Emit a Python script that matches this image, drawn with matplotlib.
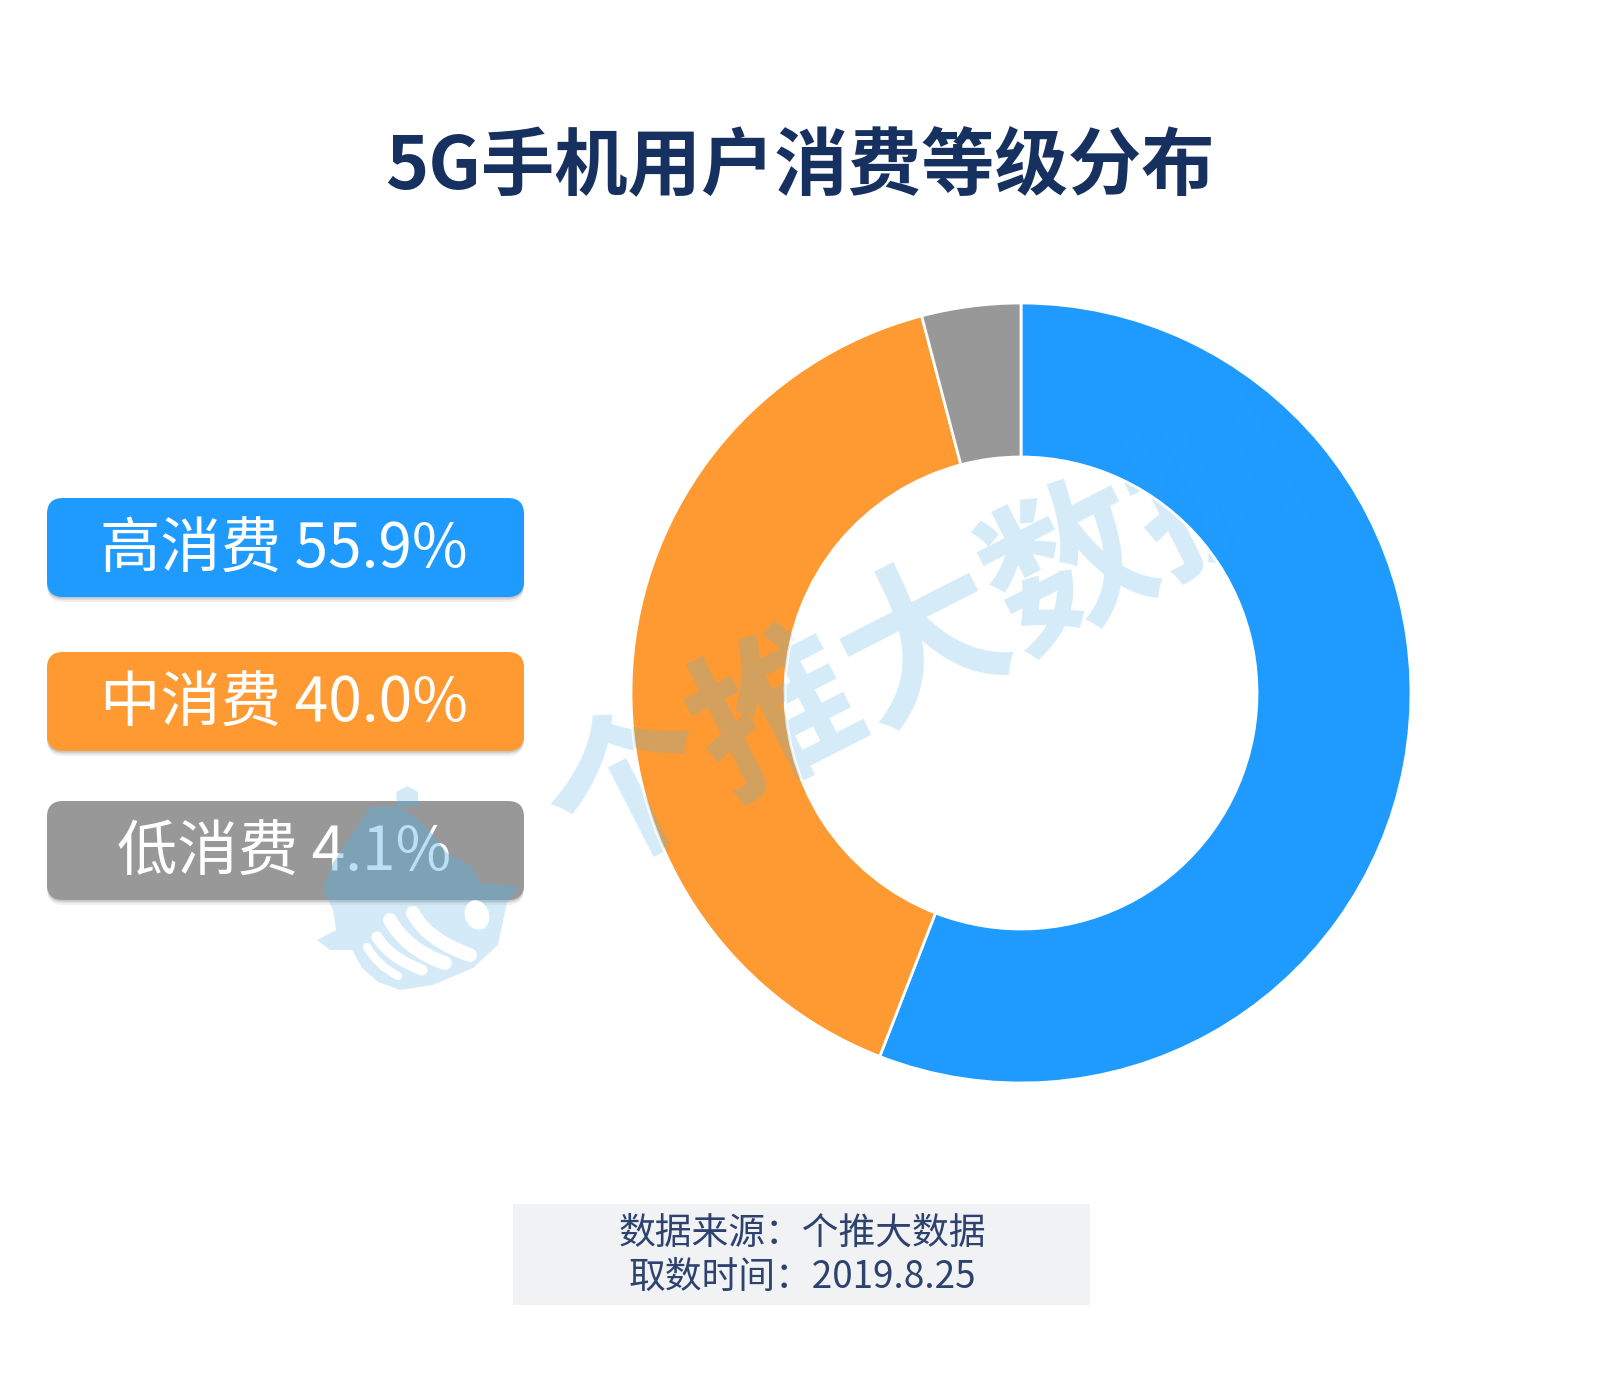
import matplotlib
matplotlib.use("Agg")
import matplotlib.pyplot as plt
from matplotlib.patches import FancyBboxPatch, Rectangle, Ellipse, Polygon, PathPatch
from matplotlib.path import Path
from matplotlib.textpath import TextPath
from matplotlib.font_manager import FontProperties
from matplotlib.transforms import Affine2D

plt.rcParams['font.family'] = ['Noto Sans CJK SC', 'DejaVu Sans']

title = "5G手机用户消费等级分布"
categories = ["高消费", "中消费", "低消费"]
values = [55.9, 40.0, 4.1]
colors = ["#1F9BFF", "#FE9A31", "#989898"]
source_lines = ["数据来源：个推大数据", "取数时间：2019.8.25"]
watermark = "个推大数据"

W, H = 1599, 1384
WM = (87/255, 179/255, 227/255)
WA = 0.25

fig = plt.figure(figsize=(W/100, H/100), dpi=100, facecolor="white")

# canvas in pixel coordinates
bg = fig.add_axes([0, 0, 1, 1], zorder=0)
bg.set_xlim(0, W); bg.set_ylim(H, 0); bg.axis("off")

bg.text(800, 168, title, ha="center", va="center", fontsize=52.8, fontweight="bold", color="#16305F")

# legend boxes
tops = [498, 652, 801]
box_patches = []
for cat, val, col, top in zip(categories, values, colors, tops):
    for off, a in ((5, .06), (3, .08), (1.5, .10)):
        bg.add_patch(FancyBboxPatch((47+15, top+15+off), 477-30, 99-30,
                     boxstyle="round,pad=15,rounding_size=16", fc="black", ec="none", alpha=a, zorder=1))
    box_patches.append(bg.add_patch(FancyBboxPatch((47+15, top+15), 477-30, 99-30,
                 boxstyle="round,pad=15,rounding_size=16", fc=col, ec="none", zorder=2)))
    bg.text(284, top+53, f"{cat} {val:.1f}%", ha="center", va="center", fontsize=43.5,
            color="white", fontweight="light", zorder=3)

# source box
bg.add_patch(Rectangle((513, 1204), 577, 101, fc="#F1F2F3", ec="none", zorder=1))
for line, y in zip(source_lines, (1233, 1277)):
    bg.text(802, y, line, ha="center", va="center", fontsize=26.5, color="#2E4270", zorder=2)

# watermark under the donut (seen on white)
WM_SIZE, WM_ROT, wm_xy = 118, 27, (925, 645)
bg.text(*wm_xy, watermark, alpha=WA, zorder=1.5, ha="center", va="center", rotation=WM_ROT,
        rotation_mode="anchor", fontsize=WM_SIZE, color=WM, fontweight="bold")

# donut
cx, cy, R, r = 1021, 693, 390, 236
pie_ax = fig.add_axes([(cx-R)/W, 1-(cy+R)/H, 2*R/W, 2*R/H], zorder=1)
wedges, _ = pie_ax.pie(values, colors=colors, startangle=90, counterclock=False, radius=1,
                       wedgeprops=dict(width=(R-r)/R, edgecolor="white", linewidth=2))
pie_ax.set_xlim(-1, 1); pie_ax.set_ylim(-1, 1); pie_ax.set_aspect("equal")
pie_ax.patch.set_alpha(0)

# overlay: the watermark tint over the wedges (faint on blue, visible on orange and grey)
ov = fig.add_axes([0, 0, 1, 1], zorder=2)
ov.set_xlim(0, W); ov.set_ylim(H, 0); ov.axis("off"); ov.patch.set_alpha(0)

fp = FontProperties(family="Noto Sans CJK SC", weight="bold", size=WM_SIZE)
renderer = fig.canvas.get_renderer()
tw, th, td = renderer.get_text_width_height_descent(watermark, fp, False)
_, lh, ld = renderer.get_text_width_height_descent("lp", fp, False)
th, td = max(th, lh), max(td, ld)
px = WM_SIZE * 100 / 72
tp = TextPath((0, 0), watermark, size=px, prop=fp)
tf = (Affine2D().translate(-tw/2, -(th - 2*td)/2).scale(1, -1)
      .rotate_deg(-WM_ROT).translate(*wm_xy))
tinted = tf.transform_path(tp)
for wedge, a in zip(wedges, (0.03, WA, WA)):
    pp = ov.add_patch(PathPatch(tinted, fc=WM, ec="none", alpha=a))
    pp.set_clip_path(wedge)

# mascot
body = [(407,786),(396,792),(397,806),(370,807),(333,863),(323,890),(333,910),(336,930),(317,940),
        (330,950),(352,950),(362,968),(378,982),(400,990),(433,985),(473,968),(498,945),(507,903),(520,887),
        (480,883),(473,867),(447,853),(425,825),(400,807),(418,806),(418,792)]
ov.add_patch(Polygon(body, closed=True, fc=WM, ec="none", alpha=WA, zorder=1))
over_box = ov.add_patch(Polygon(body, closed=True, fc=WM, ec="none", alpha=0.2, zorder=1.1))
over_box.set_clip_path(box_patches[2])
stripes = [((413,913),(427,940),(470,955),10), ((390,920),(407,950),(445,963),10),
           ((377,937),(390,958),(422,970),8), ((367,947),(377,965),(398,976),6)]
for p0, p1, p2, lw_ in stripes:
    ov.add_patch(PathPatch(Path([p0, p1, p2], [Path.MOVETO, Path.CURVE3, Path.CURVE3]),
                           fc="none", ec="white", lw=lw_, capstyle="round", zorder=2))
ov.add_patch(Ellipse((477, 915), 24, 30, angle=-20, fc="white", ec="none", zorder=2))

fig.savefig("out.png", dpi=100, facecolor="white")
